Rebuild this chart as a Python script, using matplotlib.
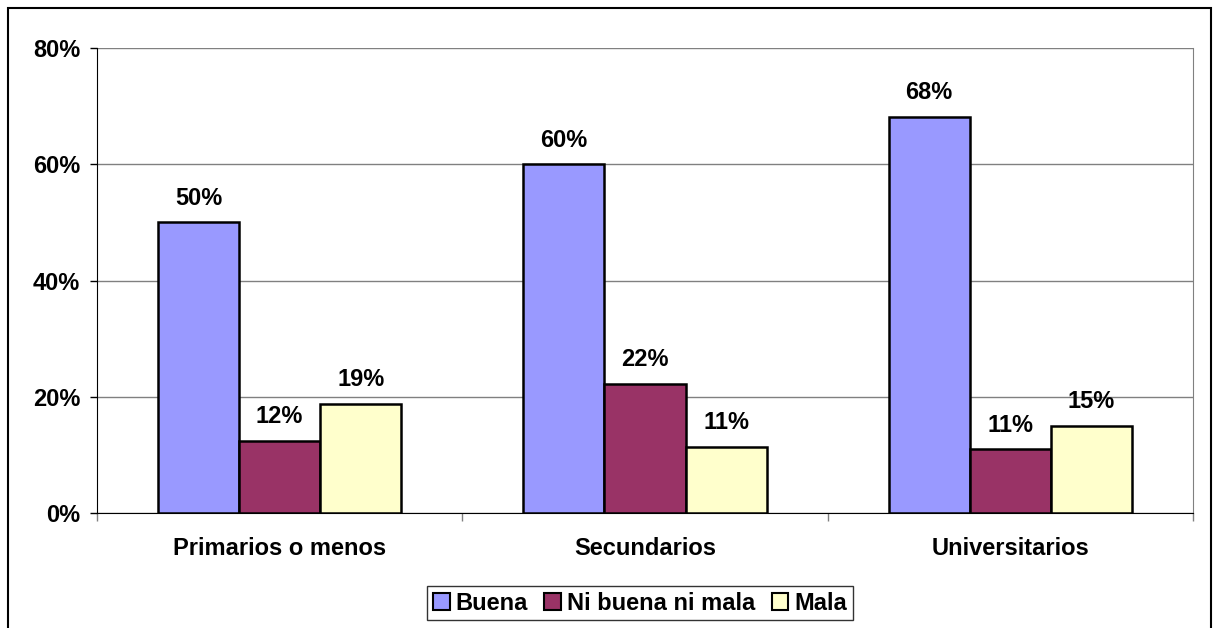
import matplotlib
matplotlib.use("Agg")
import matplotlib.pyplot as plt
from matplotlib.patches import Rectangle
import numpy as np

categories = ["Primarios o menos", "Secundarios", "Universitarios"]
series_names = ["Buena", "Ni buena ni mala", "Mala"]
buena = [50.0, 60.0, 68.2]
ni_buena = [12.4, 22.2, 11.0]
mala = [18.8, 11.4, 15.0]
yticks = [0, 20, 40, 60, 80]
colors = ["#9999FF", "#993366", "#FFFFCC"]

plt.rcParams['font.family'] = ['Liberation Sans', 'DejaVu Sans']
plt.rcParams['font.weight'] = 'bold'

FS = 17
W, H = 1216, 628
fig = plt.figure(figsize=(W / 100, H / 100), dpi=100)
ax = fig.add_axes([97 / W, (H - 513) / H, (1193 - 97) / W, (513 - 48) / H])

x = np.arange(len(categories))
bw = 0.222
data = [buena, ni_buena, mala]
for i, (vals, c, name) in enumerate(zip(data, colors, series_names)):
    bars = ax.bar(x + (i - 1) * bw, vals, width=bw, color=c, edgecolor="black",
                  linewidth=1.8, label=name, zorder=3)
    for b, v in zip(bars, vals):
        ax.annotate(f"{v:.0f}%", (b.get_x() + b.get_width() / 2, b.get_height()),
                    xytext=(0, 9), textcoords="offset points", ha="center", va="bottom",
                    fontsize=FS, fontweight="bold")

ax.set_xlim(-0.5, 2.5)
ax.set_ylim(0, 80)
ax.set_yticks(yticks)
ax.set_yticklabels([f"{t}%" for t in yticks], fontsize=FS, fontweight="bold")
ax.yaxis.grid(True, color="#808080", linewidth=1, zorder=0)
ax.set_axisbelow(True)
ax.tick_params(axis="y", length=5, width=1, pad=7)

ax.set_xticks([-0.5, 0.5, 1.5, 2.5])
ax.set_xticklabels([])
ax.set_xticks(x, minor=True)
ax.set_xticklabels(categories, minor=True, fontsize=FS, fontweight="bold")
ax.tick_params(axis="x", which="major", length=6, width=1, color="#808080")
ax.tick_params(axis="x", which="minor", length=0, pad=17)

ax.spines["top"].set_visible(False)
ax.spines["right"].set_color("#808080")
ax.spines["left"].set_color("black")
ax.spines["bottom"].set_color("black")

leg = ax.legend(loc="center", bbox_to_anchor=(640 / W, (H - 603) / H),
                bbox_transform=fig.transFigure, ncol=3, frameon=True, fancybox=False,
                edgecolor="black", prop={"weight": "bold", "size": FS},
                handlelength=0.7, handleheight=0.7, handletextpad=0.25,
                columnspacing=0.7, borderpad=0.25)
leg.get_frame().set_linewidth(1)
for h in leg.legend_handles:
    h.set_linewidth(1.5)

fig.patches.append(Rectangle((8 / W, -0.1), (1211 - 8) / W, 1.1 - 8 / H,
                             transform=fig.transFigure, fill=False,
                             edgecolor="black", linewidth=1.5))

fig.savefig("out.png", dpi=100, facecolor="white")
